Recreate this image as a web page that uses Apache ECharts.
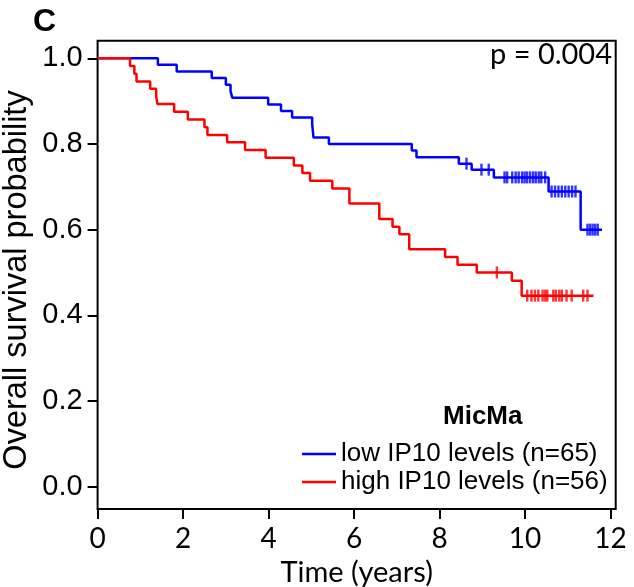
<!DOCTYPE html>
<html>
<head>
<meta charset="utf-8">
<script src="https://cdn.jsdelivr.net/npm/echarts@6/dist/echarts.min.js"></script>
<style>
html,body{margin:0;padding:0;background:#fff;}
#chart{width:634px;height:587px;}
</style>
</head>
<body>
<div id="chart"></div>
<script>
// ---- data ----
var xTicks = [0, 2, 4, 6, 8, 10, 12];
var yTicks = [0, 0.2, 0.4, 0.6, 0.8, 1.0];

var lowName = 'low IP10 levels (n=65)';
var lowTimes = [0, 1.41, 1.85, 2.67, 3.00, 3.11, 3.15, 3.99, 4.29, 4.55, 5.02, 5.05, 5.41, 7.35, 7.46, 8.45, 8.75, 9.27, 10.55, 11.30, 11.80];
var lowSurv  = [1, 0.985, 0.969, 0.954, 0.938, 0.923, 0.908, 0.892, 0.877, 0.862, 0.846, 0.815, 0.800, 0.785, 0.769, 0.754, 0.740, 0.722, 0.689, 0.600, 0.600];
var lowCensor = [8.63, 8.98, 9.15, 9.52, 9.58, 9.70, 9.78, 9.85, 9.93, 9.99, 10.05, 10.12, 10.19, 10.25, 10.32, 10.38, 10.47, 10.62, 10.70, 10.78, 10.86, 10.94, 11.02, 11.10, 11.18, 11.46, 11.52, 11.58, 11.64, 11.70];

var highName = 'high IP10 levels (n=56)';
var highTimes = [0, 0.76, 0.86, 0.91, 1.23, 1.37, 1.40, 1.79, 2.11, 2.50, 2.57, 3.03, 3.45, 3.93, 4.59, 4.79, 4.97, 5.49, 5.89, 6.59, 6.90, 7.06, 7.29, 8.13, 8.42, 8.87, 9.69, 9.92, 11.60];
var highSurv  = [1, 0.982, 0.964, 0.946, 0.929, 0.911, 0.893, 0.875, 0.857, 0.839, 0.821, 0.804, 0.786, 0.768, 0.750, 0.732, 0.714, 0.696, 0.661, 0.625, 0.607, 0.589, 0.554, 0.536, 0.518, 0.500, 0.481, 0.446, 0.446];
var highCensor = [9.34, 10.05, 10.15, 10.23, 10.31, 10.41, 10.47, 10.52, 10.66, 10.72, 10.80, 10.86, 10.97, 11.09, 11.36, 11.46];

var xTitle = 'Time (years)';
var yTitle = 'Overall survival probability';
var cohortTitle = 'MicMa';
var pText = 'p = 0.004';
var panelLetter = 'C';

// ---- build ----
function pairs(t, s) { return t.map(function (v, i) { return [v, s[i]]; }); }
function survAt(t, times, surv) {
  var v = surv[0];
  for (var i = 0; i < times.length; i++) { if (times[i] <= t) v = surv[i]; }
  return v;
}
function censorPts(c, times, surv) { return c.map(function (t) { return [t, survAt(t, times, surv)]; }); }

var BLUE = '#0000ff', RED = '#ff0000';
var chart = echarts.init(document.getElementById('chart'), null, {renderer: 'canvas'});
chart.setOption({
  animation: false,
  backgroundColor: '#fff',
  grid: {left: 97.6, right: 18.3, top: 40.7, bottom: 78, show: true, borderColor: '#000', borderWidth: 2, backgroundColor: 'transparent', containLabel: false, outerBoundsMode: 'none'},
  xAxis: {
    type: 'value', min: 0, max: 12.12,
    name: xTitle, nameLocation: 'middle', nameGap: 43,
    nameTextStyle: {fontFamily: 'Lato', fontSize: 29, color: '#000'},
    axisLine: {show: false, onZero: false},
    axisTick: {show: true, length: 10, lineStyle: {color: '#000', width: 2}, customValues: xTicks},
    axisLabel: {fontFamily: 'Lato', fontSize: 28, color: '#000', margin: 16, customValues: xTicks},
    splitLine: {show: false}
  },
  yAxis: {
    type: 'value', min: -0.052, max: 1.041,
    axisLine: {show: false, onZero: false},
    axisTick: {show: true, length: 10, lineStyle: {color: '#000', width: 2}, customValues: yTicks},
    axisLabel: {fontFamily: 'Liberation Sans', fontSize: 29, color: '#000', margin: 15, customValues: yTicks,
      formatter: function (v) { return Number(v).toFixed(1); }},
    splitLine: {show: false}
  },
  legend: {
    data: [lowName, highName], orient: 'vertical', left: 297, top: 436,
    itemWidth: 34, itemHeight: 2.5, itemGap: 2, icon: 'rect',
    textStyle: {fontFamily: 'Liberation Sans', fontSize: 26, color: '#000'}
  },
  graphic: [
    {type: 'text', left: 33, top: 6, style: {text: panelLetter, font: 'bold 32px "Liberation Sans"', fill: '#000'}},
    {type: 'text', right: 22, top: 40, style: {text: pText, font: '29px Lato', fill: '#000', textAlign: 'right'}},
    {type: 'text', left: 443, top: 404, style: {text: cohortTitle, font: 'bold 26px "Liberation Sans"', fill: '#000'}},
    {type: 'text', x: 17, y: 280, rotation: Math.PI / 2,
      style: {text: yTitle, font: '32.5px "Liberation Sans"', fill: '#000', align: 'center', verticalAlign: 'middle'}}
  ],
  series: [
    {name: lowName, type: 'line', step: 'end', data: pairs(lowTimes, lowSurv), showSymbol: false, color: BLUE, lineStyle: {color: BLUE, width: 2.5}, z: 3},
    {name: highName, type: 'line', step: 'end', data: pairs(highTimes, highSurv), showSymbol: false, color: RED, lineStyle: {color: RED, width: 2.5}, z: 4},
    {name: 'low censored', type: 'scatter', data: censorPts(lowCensor, lowTimes, lowSurv), symbol: 'rect', symbolSize: [2.4, 12], itemStyle: {color: BLUE}, z: 5},
    {name: 'high censored', type: 'scatter', data: censorPts(highCensor, highTimes, highSurv), symbol: 'rect', symbolSize: [2.4, 12], itemStyle: {color: RED}, z: 5}
  ]
});
</script>
</body>
</html>
